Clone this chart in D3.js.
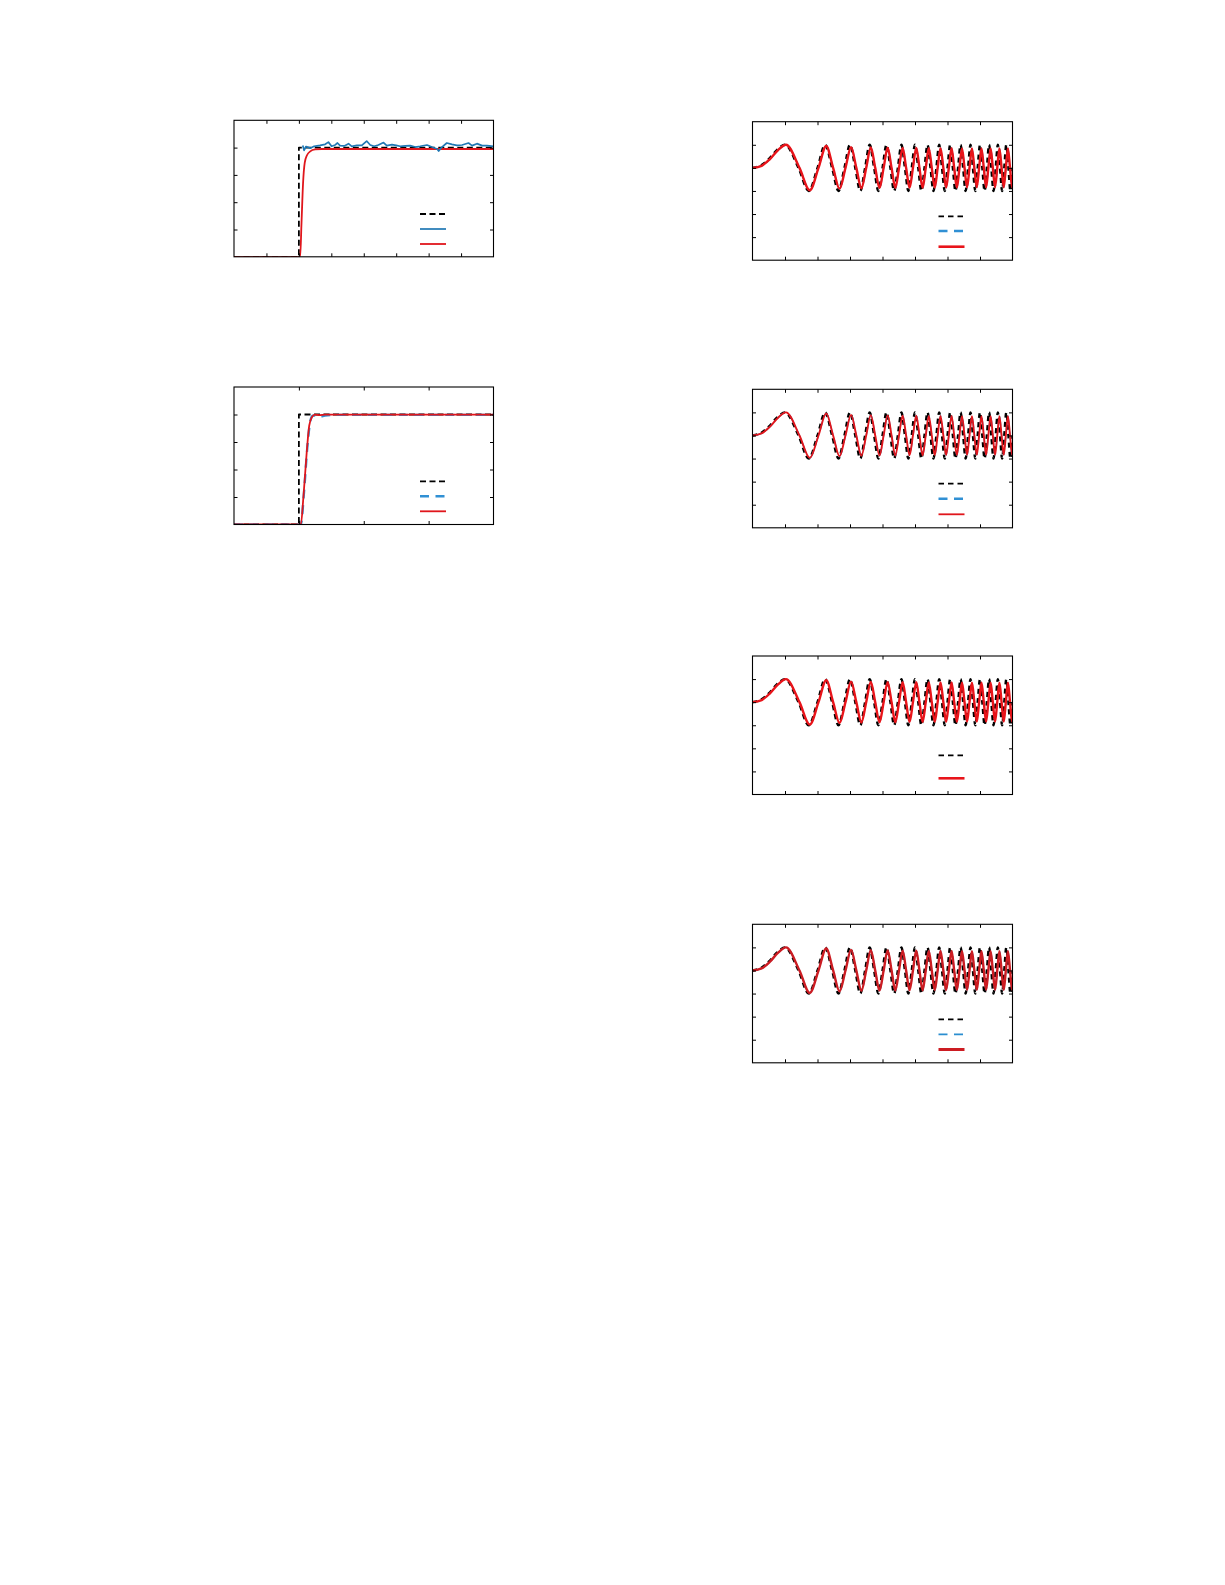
<!DOCTYPE html>
<html>
<head>
<meta charset="utf-8">
<script src="https://cdn.jsdelivr.net/npm/d3@7/dist/d3.min.js"></script>
<style>
    body { margin: 0; background: #fff; }
    .frame { fill: none; stroke: #000; stroke-width: 1.1; }
    .tick line { stroke: #000; stroke-width: 1; }
    .domain { display: none; }
</style>
</head>
<body>
<svg id="chart" width="1225" height="1585"></svg>
<script>
// ---- left column: step tests ----
const stepRefA = [[0, 0], [2, 0], [2, 1], [8, 1]];
const stepMeasA = [[2.12, 1.02], [2.16, 0.975], [2.22, 1.01], [2.35, 0.995], [2.47, 1.012], [2.65, 1.02],
    [2.81, 1.03], [2.91, 1.05], [3.01, 1.012], [3.12, 1.024], [3.19, 1.042], [3.27, 1.018], [3.40, 1.015],
    [3.53, 1.036], [3.63, 1.012], [3.79, 1.021], [3.94, 1.021], [4.09, 1.06], [4.20, 1.024], [4.32, 1.012],
    [4.45, 1.024], [4.61, 1.046], [4.71, 1.018], [4.87, 1.027], [5.00, 1.021], [5.12, 1.012], [5.28, 1.015],
    [5.43, 1.018], [5.59, 1.005], [5.74, 1.012], [5.95, 1.024], [6.10, 1.005], [6.26, 0.987], [6.31, 0.969],
    [6.41, 1.005], [6.56, 1.042], [6.72, 1.03], [6.87, 1.021], [7.03, 1.024], [7.23, 1.042], [7.34, 1.018],
    [7.49, 1.036], [7.65, 1.018], [7.80, 1.018], [8.00, 1.012]];
const stepModelA = [[0, 0], [2.04, 0], [2.08, 0.3], [2.13, 0.68], [2.18, 0.86], [2.25, 0.93], [2.35, 0.965],
    [2.5, 0.983], [2.7, 0.987], [8, 0.987]];

const stepRefB = [[0, 0], [1, 0], [1, 1], [4, 1]];
const stepMeasB = [[0, 0], [1.03, 0], [1.08, 0.3], [1.13, 0.7], [1.17, 0.92], [1.21, 0.99], [1.26, 0.99],
    [1.32, 0.978], [1.4, 0.99], [1.55, 0.997], [4, 0.997]];
const stepModelB = [[0, 0], [1.03, 0], [1.07, 0.25], [1.12, 0.65], [1.16, 0.9], [1.2, 0.975], [1.25, 0.998],
    [1.32, 0.995], [1.4, 0.998], [4, 0.998]];

// ---- right column: chirp tests (extrema and zero crossings) ----
const chirpRef = [[0, 0], [0.25, 0.1], [0.5, 0.38], [0.75, 0.77], [1, 1], [1.414, 0], [1.732, -1], [2, 0],
    [2.236, 1], [2.449, 0], [2.646, -1], [2.828, 0], [3, 1], [3.162, 0], [3.317, -1], [3.464, 0], [3.606, 1],
    [3.742, 0], [3.873, -1], [4, 0], [4.123, 1], [4.243, 0], [4.359, -1], [4.472, 0], [4.583, 1], [4.690, 0],
    [4.796, -1], [4.899, 0], [5, 1], [5.099, 0], [5.196, -1], [5.292, 0], [5.385, 1], [5.477, 0], [5.568, -1],
    [5.657, 0], [5.745, 1], [5.831, 0], [5.916, -1], [6, 0], [6.083, 1], [6.164, 0], [6.245, -1], [6.325, 0],
    [6.403, 1], [6.481, 0], [6.557, -1], [6.633, 0], [6.708, 1], [6.782, 0], [6.856, -1], [6.928, 0], [7, 1],
    [7.071, 0], [7.141, -1], [7.211, 0], [7.280, 1], [7.348, 0], [7.416, -1], [7.483, 0], [7.550, 1],
    [7.616, 0], [7.681, -1], [7.746, 0], [7.810, 1], [7.874, 0], [7.937, -1], [8, 0]];
const chirpResp = [[0, 0], [0.28, 0.09], [0.53, 0.37], [0.78, 0.76], [1.03, 1.0], [1.445, 0], [1.763, -0.97],
    [2.031, 0], [2.268, 0.95], [2.481, 0], [2.678, -0.9], [2.861, 0], [3.033, 0.89], [3.195, 0], [3.350, -0.88],
    [3.498, 0], [3.640, 0.88], [3.776, 0], [3.908, -0.87], [4.035, 0], [4.158, 0.87], [4.279, 0],
    [4.395, -0.87], [4.508, 0], [4.620, 0.86], [4.727, 0], [4.833, -0.86], [4.937, 0], [5.038, 0.86],
    [5.137, 0], [5.234, -0.86], [5.331, 0], [5.424, 0.85], [5.516, 0], [5.608, -0.85], [5.697, 0],
    [5.785, 0.85], [5.872, 0], [5.957, -0.85], [6.041, 0], [6.125, 0.85], [6.206, 0], [6.287, -0.85],
    [6.368, 0], [6.446, 0.84], [6.524, 0], [6.601, -0.84], [6.677, 0], [6.752, 0.84], [6.826, 0],
    [6.901, -0.84], [6.973, 0], [7.045, 0.84], [7.117, 0], [7.187, -0.84], [7.257, 0], [7.327, 0.84],
    [7.395, 0], [7.463, -0.84], [7.531, 0], [7.598, 0.84], [7.664, 0], [7.730, -0.84], [7.795, 0],
    [7.859, 0.84], [7.924, 0], [7.987, -0.84], [8, -0.8]];

// tick values
const stepTicksX8 = [1, 2, 3, 4, 5, 6, 7];
const stepTicksX4 = [1, 2, 3];
const stepTicksY = [0.25, 0.5, 0.75, 1.0];
const chirpTicksX = [1, 2, 3, 4, 5, 6, 7];
const chirpTicksY = [-3, -2, -1, 0, 1];

// line styles
const styles = {
    ref: {stroke: "#000", width: 1.8, dash: "6,3.5"},
    refChirp: {stroke: "#000", width: 2.4, dash: "5,4"},
    refLegend: {stroke: "#000", width: 1.8, dash: "5.5,4"},
    blueSolid: {stroke: "#1f78b4", width: 1.7, dash: null},
    blueDash: {stroke: "#3090d4", width: 2.4, dash: "9,6.5"},
    blueDashThin: {stroke: "#2b8ed0", width: 1.8, dash: "9,6.5"},
    redThin: {stroke: "#e0161c", width: 1.8, dash: null},
    redThick: {stroke: "#e8141a", width: 2.6, dash: null},
    redDark: {stroke: "#cc1c22", width: 3, dash: null}
};

class Panel {
    constructor(svg, id, box, xDomain, yDomain) {
        this.box = box;
        this.g = svg.append("g").attr("id", id);
        this.x = d3.scaleLinear().domain(xDomain).range([box.x, box.x + box.w]);
        this.y = d3.scaleLinear().domain(yDomain).range([box.y + box.h, box.y]);

        this.g.append("clipPath").attr("id", id + "-clip")
            .append("rect")
            .attr("x", box.x).attr("y", box.y)
            .attr("width", box.w).attr("height", box.h);
        this.lines = this.g.append("g").attr("clip-path", "url(#" + id + "-clip)");
    }

    drawAxes(xTicks, yTicks) {
        let b = this.box, t = -3.5;
        let none = () => "";
        this.g.append("g").attr("transform", `translate(0,${b.y + b.h})`)
            .call(d3.axisBottom(this.x).tickValues(xTicks).tickSize(t).tickFormat(none));
        this.g.append("g").attr("transform", `translate(0,${b.y})`)
            .call(d3.axisTop(this.x).tickValues(xTicks).tickSize(t).tickFormat(none));
        this.g.append("g").attr("transform", `translate(${b.x},0)`)
            .call(d3.axisLeft(this.y).tickValues(yTicks).tickSize(t).tickFormat(none));
        this.g.append("g").attr("transform", `translate(${b.x + b.w},0)`)
            .call(d3.axisRight(this.y).tickValues(yTicks).tickSize(t).tickFormat(none));

        this.g.append("rect").classed("frame", true)
            .attr("x", b.x).attr("y", b.y)
            .attr("width", b.w).attr("height", b.h);
    }

    drawLine(data, style, curve) {
        let line = d3.line()
            .x(d => this.x(d[0]))
            .y(d => this.y(d[1]))
            .curve(curve || d3.curveLinear);
        this.lines.append("path")
            .datum(data)
            .attr("d", line)
            .attr("fill", "none")
            .attr("stroke", style.stroke)
            .attr("stroke-width", style.width)
            .attr("stroke-dasharray", style.dash)
            .attr("stroke-linejoin", "round");
    }

    // legend samples only, the labels are absent in the original
    drawLegend(entries, offsets) {
        let b = this.box;
        entries.forEach((s, i) => {
            this.g.append("line")
                .attr("x1", b.x + 186).attr("x2", b.x + 212)
                .attr("y1", b.y + offsets[i]).attr("y2", b.y + offsets[i])
                .attr("stroke", s.stroke)
                .attr("stroke-width", s.width)
                .attr("stroke-dasharray", s.dash);
        });
    }
}

let svg = d3.select("#chart");
let smooth = d3.curveMonotoneX;

// left top
let pA = new Panel(svg, "stepA", {x: 234, y: 120.3, w: 259.5, h: 136.5}, [0, 8], [0, 1.25]);
pA.drawLine(stepRefA, styles.ref);
pA.drawLine(stepModelA, styles.redThin, smooth);
pA.drawLine(stepMeasA, styles.blueSolid);
pA.drawAxes(stepTicksX8, stepTicksY);
pA.drawLegend([styles.ref, styles.blueSolid, styles.redThin], [93.7, 108.7, 123.7]);

// left bottom
let pB = new Panel(svg, "stepB", {x: 234, y: 387, w: 259.5, h: 137.5}, [0, 4], [0, 1.25]);
pB.drawLine(stepRefB, styles.ref);
pB.drawLine(stepMeasB, styles.blueDash, smooth);
pB.drawLine(stepModelB, styles.redThin, smooth);
pB.drawAxes(stepTicksX4, stepTicksY);
pB.drawLegend([styles.ref, styles.blueDash, styles.redThin], [94.3, 109.3, 124.3]);

// right column
let chirpPanels = [
    {top: 121.7, blue: styles.blueDash, red: styles.redThick, lw: 2.4, legend: [94.6, 109.3, 125]},
    {top: 389.3, blue: styles.blueDash, red: styles.redThin, lw: 1.9, legend: [94.4, 109.4, 125]},
    {top: 656, blue: null, red: styles.redThick, lw: 2.4, legend: [99.3, 122.3]},
    {top: 924.3, blue: styles.blueDashThin, red: styles.redDark, lw: 2.4, legend: [95, 110, 125.2]}
];

chirpPanels.forEach((c, i) => {
    let p = new Panel(svg, "chirp" + i, {x: 752.5, y: c.top, w: 260, h: 138.5}, [0, 8], [-4, 2]);
    p.drawLine(chirpRef, styles.refChirp, smooth);
    if (c.blue) p.drawLine(chirpResp, {stroke: c.blue.stroke, width: 1.4, dash: c.blue.dash}, smooth);
    p.drawLine(chirpResp, {stroke: c.red.stroke, width: c.lw, dash: null}, smooth);
    p.drawAxes(chirpTicksX, chirpTicksY);
    let entries = c.blue ? [styles.refLegend, c.blue, c.red] : [styles.refLegend, c.red];
    p.drawLegend(entries, c.legend);
});
</script>
</body>
</html>
